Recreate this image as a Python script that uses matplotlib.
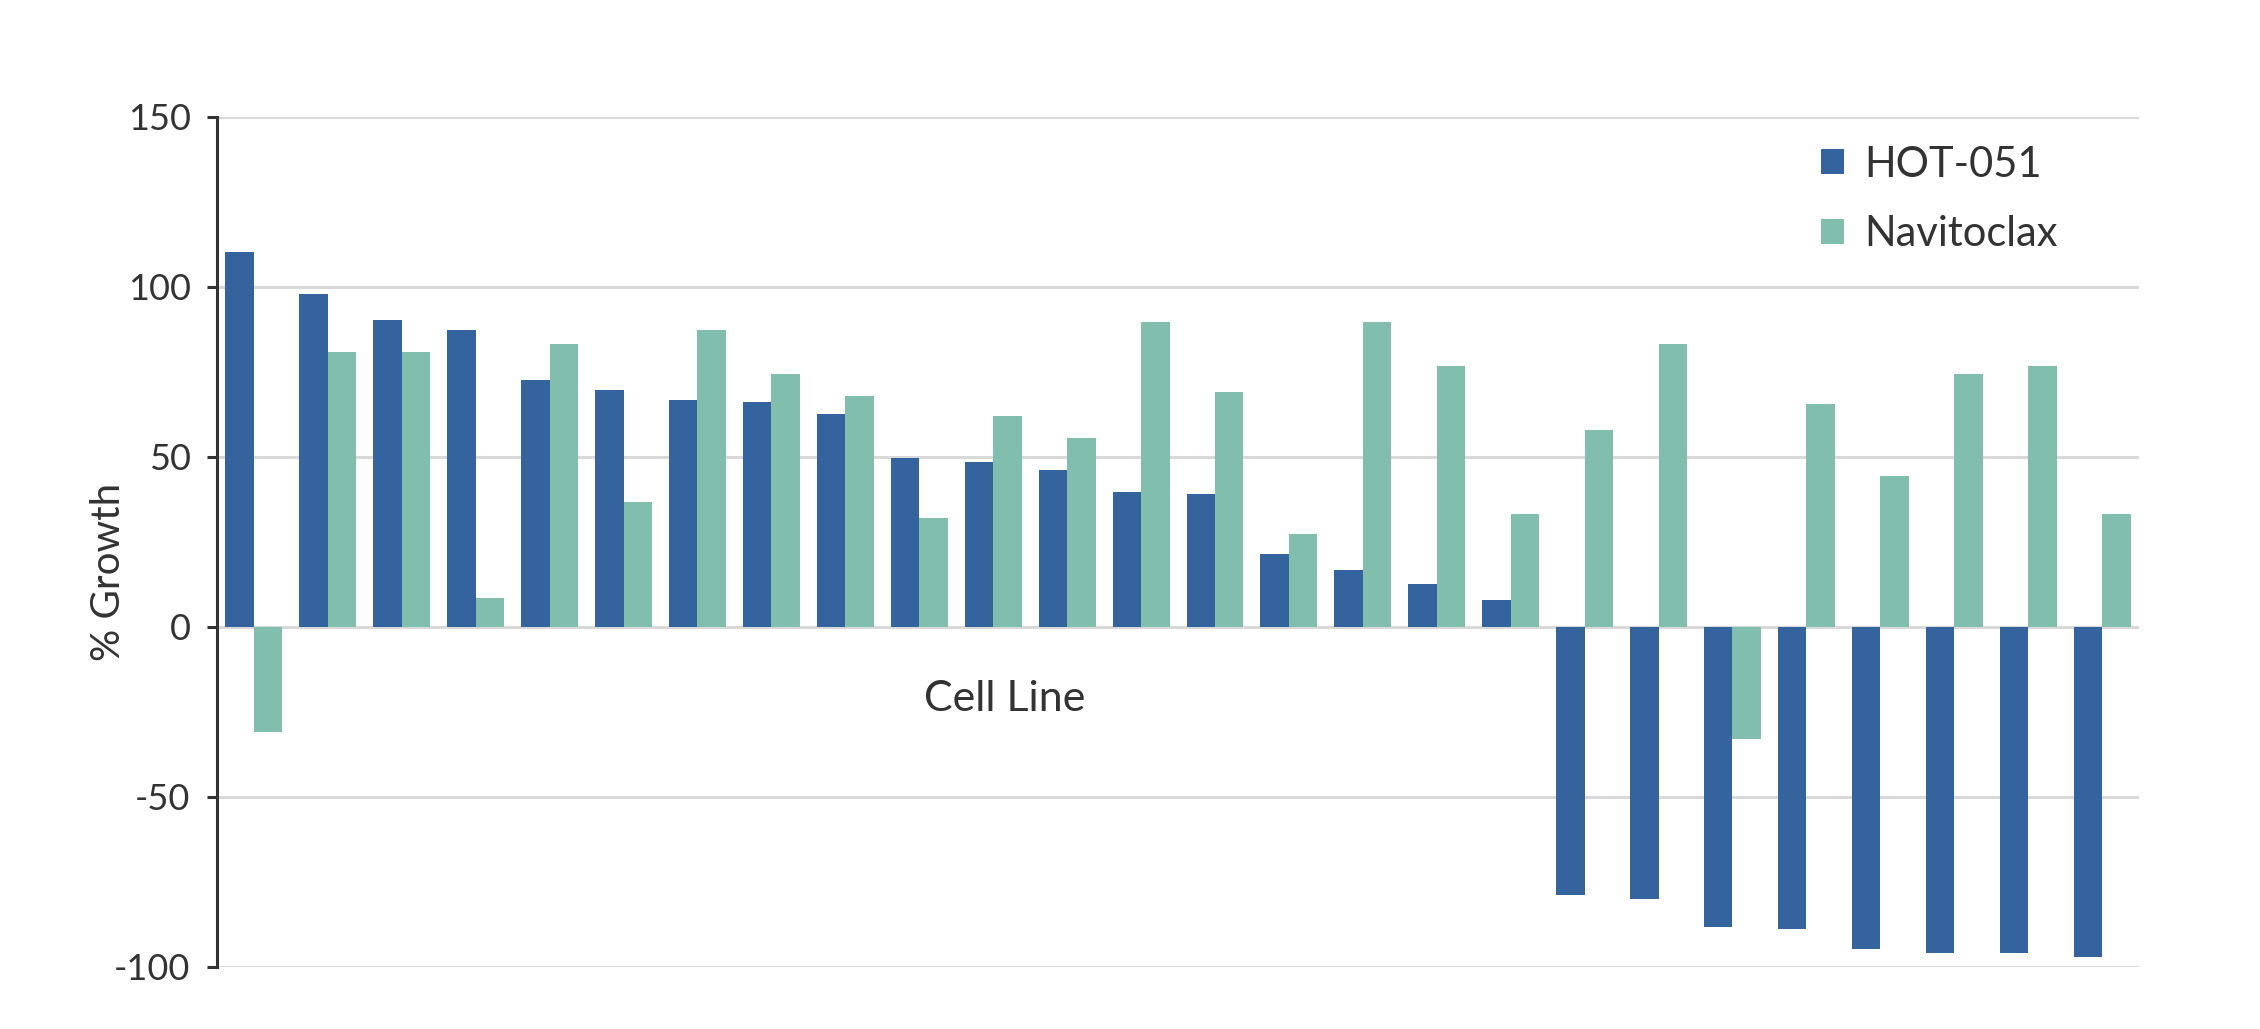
import numpy as np
import matplotlib
matplotlib.use('Agg')
import matplotlib.pyplot as plt

plt.rcParams['font.family'] = ['Lato', 'DejaVu Sans']
plt.rcParams['axes.unicode_minus'] = False

hot051 = [110.2, 97.8, 90.2, 87.3, 72.6, 69.7, 66.7, 66.2, 62.6, 49.6,
          48.5, 46.1, 39.6, 39.1, 21.4, 16.7, 12.6, 7.9, -78.9, -80.1,
          -88.3, -88.9, -94.8, -96.0, -96.0, -97.2]
navitoclax = [-30.8, 80.8, 80.8, 8.4, 83.2, 36.7, 87.3, 74.4, 67.9, 32.0,
              62.0, 55.5, 89.7, 69.1, 27.4, 89.7, 76.8, 33.2, 57.9, 83.2,
              -33.0, 65.5, 44.3, 74.4, 76.8, 33.2]
series_names = ['HOT-051', 'Navitoclax']
colors = ['#35639e', '#82bead']
yticks = [-100, -50, 0, 50, 100, 150]

fig = plt.figure(figsize=(22.6, 10.29), dpi=100)
ax = fig.add_axes([0.096, 0.0603, 0.8505, 0.826])

x = np.arange(len(hot051))
w = 0.385
ax.bar(x - w / 2, hot051, w, color=colors[0], label=series_names[0], zorder=3)
ax.bar(x + w / 2, navitoclax, w, color=colors[1], label=series_names[1], zorder=3)

ax.set_xlim(-0.5, len(hot051) - 0.5)
ax.set_ylim(-100, 150)
ax.set_yticks(yticks)
ax.yaxis.grid(True, color='#d9d9d9', linewidth=2.2, zorder=0)
ax.set_xticks([])
for s in ['top', 'right', 'bottom']:
    ax.spines[s].set_visible(False)
ax.spines['left'].set_color('#333333')
ax.spines['left'].set_linewidth(2.2)
ax.tick_params(axis='y', length=7, width=2.2, color='#333333',
               labelsize=26, labelcolor='#333333', pad=12)

ax.set_ylabel('% Growth', fontsize=29, color='#333333')
ax.yaxis.set_label_coords(-0.047, 0.465)
ax.text(0.41, 0.315, 'Cell Line', transform=ax.transAxes, ha='center',
        va='center', fontsize=31, color='#333333')

ax.legend(loc='upper left', bbox_to_anchor=(0.789, 0.895), bbox_transform=fig.transFigure,
          frameon=False, fontsize=30, handlelength=0.55, handleheight=0.55,
          handletextpad=0.5, labelspacing=0.75, labelcolor='#333333')

fig.savefig('out.png', dpi=100)
